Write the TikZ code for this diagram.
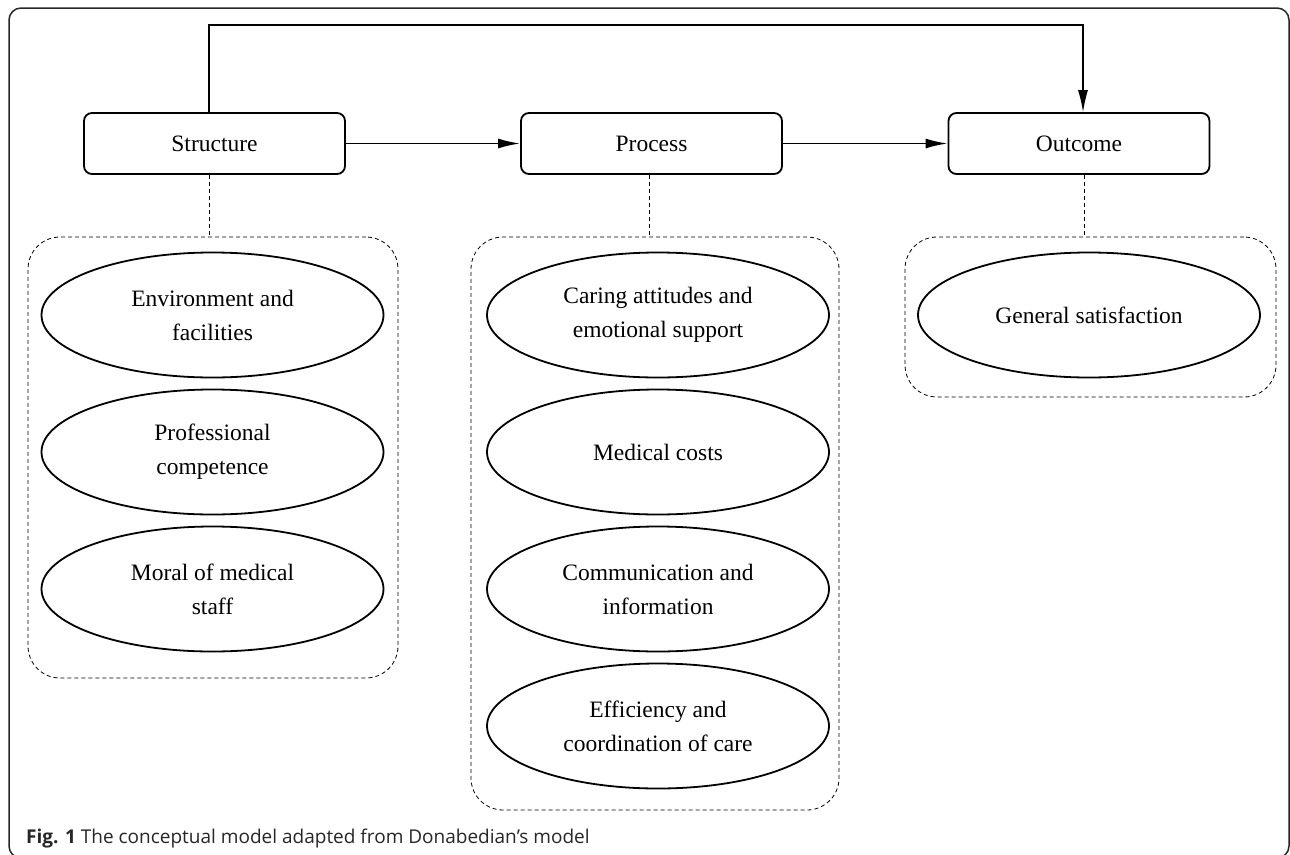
\documentclass[tikz,border=0pt]{standalone}
\usepackage{fontspec}
\setmainfont{Liberation Serif}
\newfontfamily\capfont{Open Sans}
\usetikzlibrary{arrows.meta,shapes.geometric}
\begin{document}
\begin{tikzpicture}[x=1pt,y=-1pt,
  stagebox/.style={draw, line width=1.8pt, rounded corners=8pt, minimum width=261pt, minimum height=61pt, inner sep=0pt, font=\fontsize{23.5}{34}\selectfont},
  factor/.style={draw, ellipse, line width=1.8pt, minimum width=342pt, minimum height=125pt, inner sep=0pt, align=center, font=\fontsize{23.5}{34}\selectfont},
  groupbox/.style={draw, line width=0.8pt, rounded corners=32pt, dash pattern=on 4pt off 3pt, inner sep=0pt},
  flow/.style={line width=1.8pt, -{Latex[length=22pt,width=10pt]}},
  topflow/.style={line width=1.2pt, -{Latex[length=22pt,width=10pt]}},
  link/.style={line width=0.9pt, dash pattern=on 4pt off 3pt}
]
\useasboundingbox (0,0) rectangle (1290,854);
\draw[line width=1.5pt, rounded corners=12pt, black!85] (9,8) rectangle (1289,858);

% stage boxes
\node[stagebox] (s) at (214.5,143.5) {Structure};
\node[stagebox] (p) at (651.5,143.5) {Process};
\node[stagebox] (o) at (1079,143.5) {Outcome};

% group boxes
\node[groupbox, minimum width=370pt, minimum height=441pt] (sg) at (213,457.5) {};
\node[groupbox, minimum width=368pt, minimum height=573pt] (pg) at (655,523.5) {};
\node[groupbox, minimum width=371pt, minimum height=160pt] (og) at (1090.5,317) {};

% factors
\node[factor] (s1) at (212.5,315) {Environment and\\facilities};
\node[factor] (s2) at (212.5,452) {Professional\\competence};
\node[factor] (s3) at (212.5,589) {Moral of medical\\staff};
\node[factor] (p1) at (658,315) {Caring attitudes and\\emotional support};
\node[factor] (p2) at (658,452) {Medical costs};
\node[factor] (p3) at (658,589) {Communication and\\information};
\node[factor] (p4) at (658,726) {Efficiency and\\coordination of care};
\node[factor] (o1) at (1089,315) {General satisfaction};

% connectors
\coordinate (t1) at (209,25);
\coordinate (t2) at (1083,25);
\draw[topflow] (s.north -| t1) -- (t1) -- (t2) -- (o.north -| t2);
\draw[flow] (s.east) -- (p.west);
\draw[flow] (p.east) -- (o.west);

\draw[link] ([xshift=-5.5pt]s.south) -- ([xshift=-5.5pt]s.south |- sg.north);
\draw[link] ([xshift=-2.5pt]p.south) -- ([xshift=-2.5pt]p.south |- pg.north);
\draw[link] ([xshift=5pt]o.south) -- ([xshift=5pt]o.south |- og.north);

% caption
\node[anchor=base west, inner sep=0pt, font=\capfont\fontsize{19}{22}\selectfont, text=black!85] (cap) at (26,843) {\textbf{Fig. 1} The conceptual model adapted from Donabedian’s model};
\end{tikzpicture}
\end{document}
